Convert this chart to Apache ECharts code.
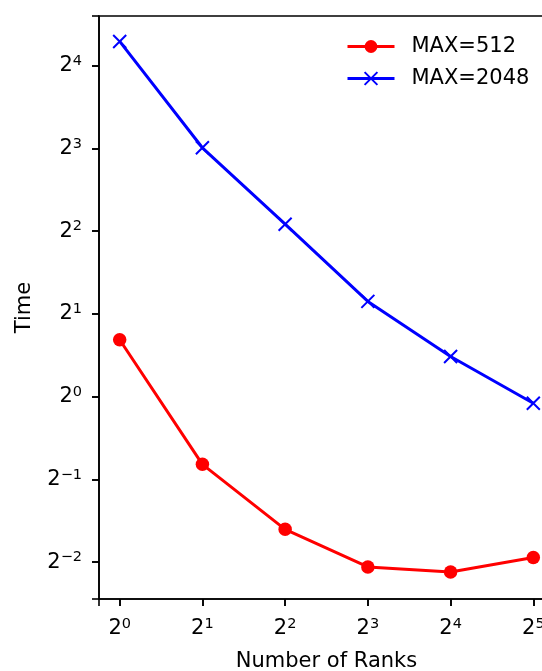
<!DOCTYPE html>
<html>
<head>
    <meta charset="utf-8">
    <title>Time vs Number of Ranks</title>
    <script src="https://cdn.jsdelivr.net/npm/echarts@6/dist/echarts.min.js"></script>
    <style>
        html, body { margin: 0; padding: 0; overflow: hidden; background: #fff; }
    </style>
</head>
<body>
<!-- plot box runs a little past the right edge of the window, as in the picture -->
<div id="main" style="width: 560px;height:671px;"></div>

<script type="text/javascript">
    // data
    var ranks = [1, 2, 4, 8, 16, 32];
    var time512 = [1.61, 0.567, 0.329, 0.240, 0.230, 0.260];
    var time2048 = [19.6, 8.04, 4.24, 2.22, 1.40, 0.946];
    var seriesNames = ['MAX=512', 'MAX=2048'];

    // both axes are base-2 log: limits given as exponents of 2,
    // ticks fall on every whole exponent
    var xExpRange = [-0.25, 5.25];
    var yExpRange = [-2.446, 4.60];

    var FONT = 'DejaVu Sans';

    // points on log2 scale (plain value axes over the exponent)
    function logPairs(xs, ys) {
        var out = [];
        for (var i = 0; i < xs.length; i++) {
            out.push([Math.log2(xs[i]), Math.log2(ys[i])]);
        }
        return out;
    }

    function powLabel(e) {
        if (Math.abs(e - Math.round(e)) > 1e-6) return '';
        e = Math.round(e);
        var s = e < 0 ? '\u2212' + (-e) : '' + e;
        return '{b|2}{s|' + s + '}';
    }

    var labelRich = {
        b: { fontFamily: FONT, fontSize: 21, lineHeight: 24, color: '#000', verticalAlign: 'middle' },
        s: { fontFamily: FONT, fontSize: 14.5, lineHeight: 24, color: '#000', verticalAlign: 'top' }
    };

    var spine = { color: '#000', width: 1.6 };

    // second axis over the same range that only carries the tick marks
    function tickAxis(range, splitNumber, position) {
        return {
            type: 'value',
            position: position,
            min: range[0],
            max: range[1],
            splitNumber: splitNumber,
            axisLine: { show: false, onZero: false },
            axisTick: { show: true, inside: false, length: 7, lineStyle: { color: '#000', width: 1.6 } },
            axisLabel: { show: true, formatter: function () { return ''; } },
            splitLine: { show: false },
            silent: true
        };
    }

    var myChart = echarts.init(document.getElementById('main'));

    var option = {
        animation: false,
        backgroundColor: '#fff',
        grid: {
            left: 99,
            top: 16,
            right: 6,
            bottom: 72,
            show: true,
            borderColor: '#000',
            borderWidth: 1.6,
            backgroundColor: 'transparent',
            outerBoundsMode: 'none'
        },
        legend: {
            orient: 'vertical',
            left: 346,
            top: 36,
            padding: 0,
            itemWidth: 47,
            itemHeight: 16,
            itemGap: 11,
            lineStyle: { width: 'inherit' },
            itemStyle: { borderWidth: 'inherit' },
            textStyle: {
                fontFamily: FONT,
                fontSize: 21,
                color: '#000',
                padding: [0, 0, 0, 12]
            },
            data: seriesNames
        },
        xAxis: [{
            type: 'value',
            position: 'bottom',
            min: xExpRange[0],
            max: xExpRange[1],
            splitNumber: 6,
            name: 'Number of Ranks',
            nameLocation: 'middle',
            nameGap: 52,
            nameTextStyle: { fontFamily: FONT, fontSize: 21, color: '#000' },
            axisLine: { show: true, onZero: false, lineStyle: spine },
            axisTick: { show: true, inside: false, length: 7, lineStyle: spine },
            axisLabel: {
                margin: 18,
                formatter: powLabel,
                rich: labelRich,
                showMinLabel: false,
                showMaxLabel: false
            },
            splitLine: { show: false }
        }, tickAxis(xExpRange, 6, 'bottom')],
        yAxis: [{
            type: 'value',
            position: 'left',
            min: yExpRange[0],
            max: yExpRange[1],
            splitNumber: 7,
            name: 'Time',
            nameLocation: 'middle',
            nameRotate: 90,
            nameGap: 64,
            nameTextStyle: { fontFamily: FONT, fontSize: 21, color: '#000' },
            axisLine: { show: true, onZero: false, lineStyle: spine },
            axisTick: { show: true, inside: false, length: 7, lineStyle: spine },
            axisLabel: {
                margin: 17,
                formatter: powLabel,
                rich: labelRich,
                showMinLabel: false,
                showMaxLabel: false
            },
            splitLine: { show: false }
        }, tickAxis(yExpRange, 7, 'left')],
        series: [{
            name: seriesNames[0],
            type: 'line',
            xAxisIndex: 0,
            yAxisIndex: 0,
            data: logPairs(ranks, time512),
            symbol: 'circle',
            symbolSize: 13.5,
            lineStyle: { color: '#ff0000', width: 3 },
            itemStyle: { color: '#ff0000', borderWidth: 0 }
        }, {
            name: seriesNames[1],
            type: 'line',
            xAxisIndex: 0,
            yAxisIndex: 0,
            data: logPairs(ranks, time2048),
            symbol: 'path://M0,0L12,12M12,0L0,12',
            symbolSize: 13,
            lineStyle: { color: '#0000ff', width: 3 },
            itemStyle: { color: '#0000ff', borderColor: '#0000ff', borderWidth: 2 }
        }]
    };

    myChart.setOption(option);
</script>
</body>
</html>
